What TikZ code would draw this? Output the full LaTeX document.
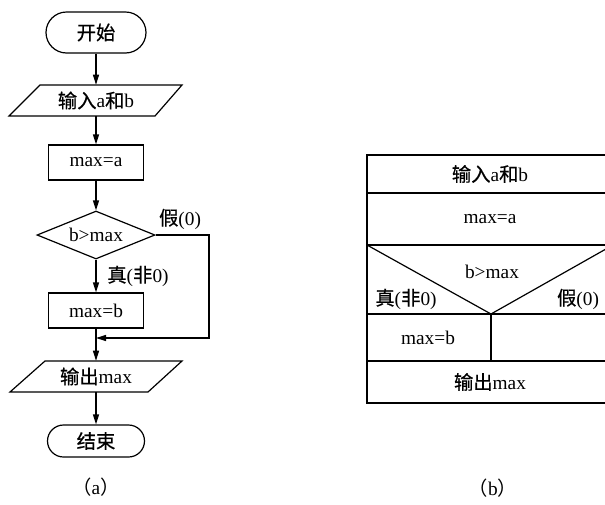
\documentclass[tikz,border=0pt]{standalone}
\usepackage{fontspec}
\setmainfont{Liberation Serif}
\newfontfamily\cjk[FakeBold=0.6]{Noto Sans CJK SC}
\newfontfamily\cjkplain{Noto Sans CJK SC}
\newcommand{\zh}[1]{{\cjk #1}}
\usetikzlibrary{shapes.geometric,shapes.misc,arrows.meta,calc}
\begin{document}
\begin{tikzpicture}[x=0.75pt,y=-0.75pt,
  font=\fontsize{14.5pt}{16pt}\selectfont,
  line/.style={line width=0.9pt},
  arr/.style={line width=0.9pt, -{Triangle[length=7.5pt,width=4.5pt]}},
  term/.style={draw, line width=0.9pt, shape=rounded rectangle, inner sep=0pt},
  proc/.style={draw, line width=0.9pt, inner sep=0pt, minimum width=71.25pt, minimum height=26.25pt},
  iobox/.style={inner sep=0pt, minimum width=90pt, minimum height=23.25pt},
  dec/.style={draw, line width=0.9pt, shape=diamond, inner sep=0pt, aspect=2.45, minimum width=88.5pt, minimum height=36pt},
  lbl/.style={inner sep=0pt}]
\useasboundingbox (0,0) rectangle (605,504);
\clip (0,0) rectangle (605,504);

% ---------- (a) flowchart ----------
\node[term, minimum width=75pt, minimum height=30.75pt] (start) at (96,32.5) {\zh{开始}};
\node[iobox] (inp) at (96,100.5) {\zh{输入}a\zh{和}b};
\draw[line] (40,85) -- (182,85) -- (155,116) -- (9,116) -- cycle;
\node[proc] (maxa) at (96,162.5) {max=a};
\node[dec] (dec) at (96,235) {b>max};
\node[proc] (maxb) at (96,310.5) {max=b};
\node[iobox] (out) at (96,376.5) {\zh{输出}max};
\draw[line] (45,361) -- (182,361) -- (148,392) -- (10,392) -- cycle;
\node[term, minimum width=72.75pt, minimum height=24pt] (end) at (96,441) {\zh{结束}};

\node[lbl] (no) at (180,219) {\zh{假}(0)};
\node[lbl] (yes) at (138,276) {\zh{真}(\zh{非}0)};

\coordinate (m) at (96,338);
\coordinate (rt) at (209,338);

\draw[arr] (start.south) -- (inp.north);
\draw[arr] (inp.south) -- (maxa.north);
\draw[arr] (maxa.south) -- (dec.north);
\draw[arr] (dec.south) -- (maxb.north);
\draw[arr] (maxb.south) -- (out.north);
\draw[arr] (dec.east) -| (rt) -- (m);
\draw[arr] (out.south) -- (end.north);

\node[lbl] (capa) at (96,487) {{\cjkplain （}a{\cjkplain ）}};

% ---------- (b) N-S diagram ----------
\draw[line] (367,155) rectangle (613,403);
\draw[line] (367,193) -- (613,193);
\draw[line] (367,245) -- (613,245);
\draw[line] (367,314) -- (613,314);
\draw[line] (367,361) -- (613,361);
\draw[line] (367,245) -- (491,314) -- (613,245);
\draw[line] (491,314) -- (491,361);

\node[lbl] (b1) at (490,174) {\zh{输入}a\zh{和}b};
\node[lbl] (b2) at (490,219) {max=a};
\node[lbl] (b3) at (492,272) {b>max};
\node[lbl] (b4) at (406,299) {\zh{真}(\zh{非}0)};
\node[lbl] (b5) at (578,299) {\zh{假}(0)};
\node[lbl] (b6) at (428,338) {max=b};
\node[lbl] (b7) at (490,382) {\zh{输出}max};

\node[lbl] (capb) at (493,488) {{\cjkplain （}b{\cjkplain ）}};
\end{tikzpicture}
\end{document}
